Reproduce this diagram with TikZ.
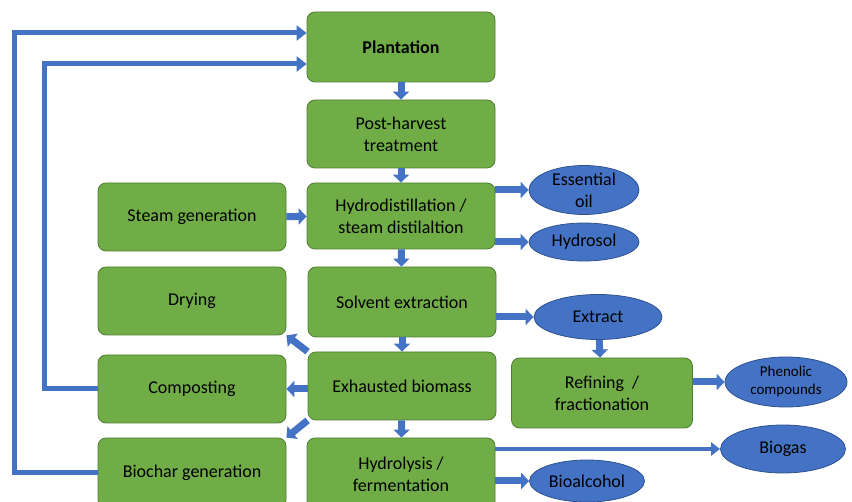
\documentclass[tikz,border=0pt]{standalone}
\usepackage{fontspec}
\setmainfont{Carlito}
\usetikzlibrary{shapes.geometric,arrows.meta}
\definecolor{boxgreen}{HTML}{70AD47}
\definecolor{boxedge}{HTML}{507E32}
\definecolor{arrowblue}{HTML}{4472C4}
\definecolor{belledge}{HTML}{2F528F}

\begin{document}
\begin{tikzpicture}
[every node/.style={inner sep=0pt, align=center, font=\fontsize{18}{22}\selectfont},
 greenbox/.style={rectangle, rounded corners=8pt, fill=boxgreen, draw=boxedge, line width=0.8pt, minimum width=188pt},
 bluebell/.style={ellipse, fill=arrowblue, draw=belledge, line width=0.8pt},
 flow/.style={draw=arrowblue, line width=7pt, -{Triangle[length=8pt,width=16pt]}},
 backflow/.style={draw=arrowblue, line width=5pt, -{Triangle[length=10pt,width=15pt]}}]
\useasboundingbox (0pt,0pt) rectangle (852pt,-502pt);
% main column
\node (plant) [greenbox, minimum height=70pt] at (401pt, -47pt) {\textbf{Plantation}};
\node (post) [greenbox, minimum height=68pt] at (401pt, -134pt) {Post-harvest\\treatment};
\node (hydro) [greenbox, minimum height=66pt] at (401pt, -216pt) {Hydrodistillation /\\steam distilaltion};
\node (solvent) [greenbox, minimum height=70pt] at (402pt, -302pt) {Solvent extraction};
\node (exhaust) [greenbox, minimum height=68pt] at (402pt, -386pt) {Exhausted biomass};
\node (hydrolysis) [greenbox, minimum height=72pt] at (401pt, -474pt) {Hydrolysis /\\fermentation};
% left column
\node (steam) [greenbox, minimum height=68pt] at (192pt, -217pt) {Steam generation};
\node (drying) [greenbox, minimum height=68pt] at (192pt, -301pt) {Drying};
\node (compost) [greenbox, minimum height=68pt] at (192pt, -389pt) {Composting};
\node (biochar) [greenbox, minimum height=70pt] at (192pt, -473pt) {Biochar generation};
\node (refining) [greenbox, minimum height=70pt, minimum width=181pt] at (602pt, -393pt) {Refining~~/\\fractionation};
% products
\node (oil) [bluebell, minimum width=110pt, minimum height=44pt] at (584pt, -190pt) {Essential\\oil};
\node (hydrosol) [bluebell, minimum width=110pt, minimum height=38pt] at (584pt, -242pt) {Hydrosol};
\node (extract) [bluebell, minimum width=128pt, minimum height=45pt] at (598pt, -317pt) {Extract};
\node (phenolic) [bluebell, minimum width=122pt, minimum height=50pt, font=\fontsize{15}{18}\selectfont] at (786pt, -382pt) {Phenolic\\compounds};
\node (biogas) [bluebell, minimum width=125pt, minimum height=48pt] at (783pt, -449pt) {Biogas};
\node (bioalcohol) [bluebell, minimum width=115pt, minimum height=42pt] at (587pt, -481pt) {Bioalcohol};
% flow arrows
\draw [flow] (plant) -- (post);
\draw [flow] (post) -- (hydro);
\draw [flow] (hydro) -- (solvent);
\draw [flow] (solvent) -- (exhaust);
\draw [flow] (exhaust) -- (hydrolysis);
\draw [flow] (steam) -- (hydro);
\draw [flow] (hydro.east |- oil) -- (oil);
\draw [flow] (hydro.east |- hydrosol) -- (hydrosol);
\draw [flow] (solvent.east |- extract) -- (extract);
\draw [flow] (extract) -- (refining);
\draw [flow] (refining.east |- phenolic) -- (phenolic);
\draw [flow] (exhaust.north west) -- (drying.south east);
\draw [flow] (exhaust.west |- compost) -- (compost);
\draw [flow] (exhaust.south west) -- (biochar.north east);
\draw [flow] (hydrolysis.east |- bioalcohol) -- (bioalcohol);
\draw [draw=arrowblue, line width=4pt, -{Triangle[length=9pt,width=13pt]}] (hydrolysis.east |- biogas) -- (biogas);
% return lines
\coordinate (outer) at (14pt, -33pt);
\coordinate (inner) at (44pt, -64pt);
\draw [backflow] (biochar.west) -| (outer) -- (outer -| plant.west);
\draw [backflow] (compost.west) -| (inner) -- (inner -| plant.west);
\end{tikzpicture}
\end{document}
